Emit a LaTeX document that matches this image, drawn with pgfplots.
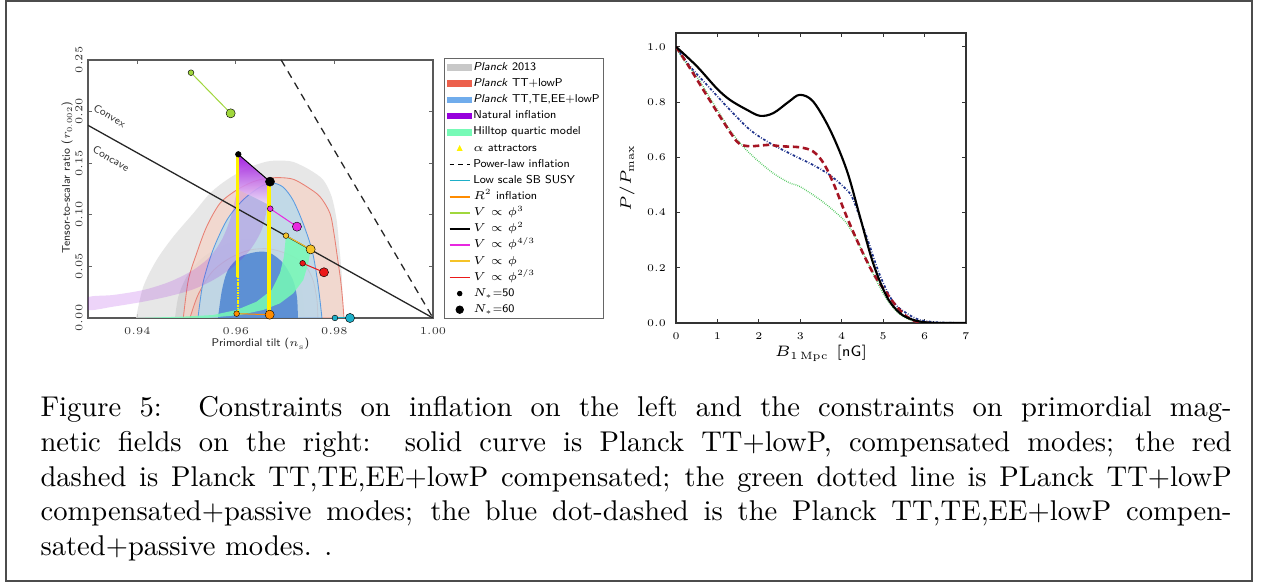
\RequirePackage{fix-cm}
\documentclass[border=0pt]{standalone}
\usepackage{pgfplots}
\pgfplotsset{compat=1.18}
\definecolor{gA}{RGB}{226,226,226}
\definecolor{gB}{RGB}{200,200,200}
\definecolor{rA}{RGB}{245,212,200}
\definecolor{rL}{RGB}{232,128,116}
\definecolor{bA}{RGB}{182,218,238}
\definecolor{bL}{RGB}{90,155,225}
\definecolor{bD}{RGB}{76,132,210}
\definecolor{natp}{RGB}{150,0,220}
\definecolor{hill}{RGB}{118,250,182}
\definecolor{ygreen}{RGB}{160,215,60}
\definecolor{magc}{RGB}{232,40,224}
\definecolor{goldc}{RGB}{245,195,40}
\definecolor{vred}{RGB}{235,25,25}
\definecolor{orng}{RGB}{255,140,0}
\definecolor{cyn}{RGB}{30,175,200}
\definecolor{leg13}{RGB}{200,200,200}
\definecolor{legTT}{RGB}{236,96,76}
\definecolor{legTE}{RGB}{112,172,236}
\definecolor{dred}{RGB}{165,20,35}
\definecolor{navy2}{RGB}{30,50,140}
\definecolor{dgreen}{RGB}{80,200,95}
\newcommand\limg[1]{\addlegendimage{draw=#1, line width=0.6pt}}
\newcommand\pimg[1]{\addlegendimage{legend image code/.code={\fill[#1] (0pt,-1pt) rectangle (8.4pt,1pt);}}}
\newcommand\pair[3]{%
  \addplot[#1,line width=0.35pt,forget plot] coordinates {#2 #3};
  \addplot[only marks,mark=*,mark size=1pt,mark options={fill=#1,draw=black,line width=0.15pt},forget plot] coordinates {#2};
  \addplot[only marks,mark=*,mark size=1.6pt,mark options={fill=#1,draw=black,line width=0.15pt},forget plot] coordinates {#3};}
\begin{document}
\begin{tikzpicture}
\useasboundingbox (0,0) rectangle (442.75pt,205.1pt);
\fill[white] (0,0) rectangle (442.75pt,205.1pt);
\draw[black!70,line width=0.45pt] (2.1pt,1.75pt) rectangle (438.2pt,204.75pt);
\draw[black!70,line width=0.8pt] (2.1pt,1.75pt) -- (438.2pt,1.75pt) -- (438.2pt,204.75pt);

% ---------------- left panel ----------------
\begin{axis}[
  at={(30.8pt,93.8pt)}, anchor=south west,
  width=120.75pt, height=90.3pt, scale only axis,
  xmin=0.93, xmax=1.0, ymin=0, ymax=0.25,
  xtick={0.94,0.96,0.98,1.00}, ytick={0,0.05,0.1,0.15,0.2,0.25},
  scaled ticks=false,
  /pgf/number format/.cd, fixed, fixed zerofill, precision=2, /pgfplots/.cd,
  tick label style={font=\fontsize{3.7}{4}\selectfont, black!80},
  yticklabel style={rotate=90, anchor=south},
  yticklabel shift=-1.6pt,
  axis line style={draw=black!65, line width=0.5pt},
  tick style={black!60, line width=0.25pt},
  major tick length=1.3pt, tick align=inside,
  xlabel={\sffamily Primordial tilt ($n_{\rm s}$)},
  ylabel={\sffamily Tensor-to-scalar ratio ($r_{0.002}$)},
  label style={font=\fontsize{3.9}{4.5}\selectfont, black!85},
  xlabel style={yshift=5.6pt},
  ylabel style={yshift=-5.8pt, xshift=4pt},
  legend image code/.code={\draw[#1] (0.7pt,0pt) -- (7.7pt,0pt);},
  legend style={at={(1.032,1.008)}, anchor=north west, draw=black!60, line width=0.3pt,
    font=\sffamily\fontsize{4.0}{4.5}\selectfont, inner xsep=1pt, inner ysep=0.9pt,
    row sep=1.0pt, nodes={inner sep=0.4pt, text height=2.9pt, text depth=0.95pt, anchor=west},
    /tikz/every even column/.append style={column sep=2.2pt}},
  legend cell align=left,
]
% Planck 2013
\addplot[draw=none, fill=gA, fill opacity=0.8, smooth, forget plot] coordinates {(0.93974,0) (0.94123,0.0304) (0.94393,0.0562) (0.94731,0.0788) (0.95137,0.1014) (0.95475,0.1208) (0.95813,0.1337) (0.96219,0.1450) (0.96625,0.1515) (0.96895,0.1525) (0.97166,0.1512) (0.97504,0.1434) (0.97775,0.1337) (0.97944,0.1176) (0.98045,0.0950) (0.98099,0.0691) (0.98147,0.0433) (0.98167,0.0174) (0.98180,0)} \closedcycle;
\addplot[draw=none, fill=gB, fill opacity=0.55, smooth, forget plot] coordinates {(0.94765,0) (0.94833,0.0207) (0.95002,0.0400) (0.95272,0.0562) (0.95611,0.0675) (0.96016,0.0756) (0.96422,0.0762) (0.96828,0.0691) (0.97166,0.0530) (0.97335,0.0304) (0.97403,0)} \closedcycle;
% Planck TT+lowP
\addplot[draw=rL, line width=0.3pt, fill=rA, fill opacity=0.75, smooth, forget plot] coordinates {(0.94934,0) (0.95036,0.0368) (0.95205,0.0627) (0.95408,0.0885) (0.95678,0.1111) (0.96016,0.1240) (0.96354,0.1321) (0.96625,0.1353) (0.96895,0.1360) (0.97166,0.1344) (0.97437,0.1273) (0.97707,0.1176) (0.97910,0.1014) (0.97991,0.0820) (0.98059,0.0594) (0.98126,0.0368) (0.98167,0.0174) (0.98194,0)} \closedcycle;
\addplot[draw=rL, line width=0.3pt, fill=rL, fill opacity=0.15, smooth, forget plot] coordinates {(0.95069,0) (0.95232,0.0223) (0.95516,0.0446) (0.95881,0.0581) (0.96287,0.0659) (0.96692,0.0669) (0.97098,0.0610) (0.97402,0.0513) (0.97565,0.0368) (0.97646,0.0174) (0.97666,0)} \closedcycle;
% Planck TT,TE,EE+lowP
\addplot[draw=bL, line width=0.3pt, fill=bA, fill opacity=0.8, smooth, forget plot] coordinates {(0.95232,0) (0.95333,0.0339) (0.95536,0.0659) (0.95820,0.0950) (0.96145,0.1143) (0.96490,0.1269) (0.96733,0.1308) (0.96956,0.1269) (0.97159,0.1143) (0.97362,0.0921) (0.97545,0.0659) (0.97646,0.0397) (0.97707,0.0174) (0.97747,0)} \closedcycle;
\addplot[draw=none, fill=bD, fill opacity=0.85, smooth, forget plot] coordinates {(0.95637,0) (0.95719,0.0271) (0.95840,0.0465) (0.96084,0.0591) (0.96429,0.0640) (0.96692,0.0630) (0.96956,0.0533) (0.97159,0.0368) (0.97240,0.0204) (0.97260,0)} \closedcycle;
% Natural inflation
\addplot[draw=none, fill=natp, fill opacity=0.17, smooth, forget plot] coordinates {(0.96050,0.1586) (0.96037,0.1338) (0.95982,0.1143) (0.95881,0.0950) (0.95712,0.0756) (0.95475,0.0594) (0.95137,0.0465) (0.94664,0.0352) (0.94123,0.0271) (0.93514,0.0223) (0.93,0.0200) (0.93,0.0078) (0.93514,0.0110) (0.94123,0.0158) (0.94664,0.0213) (0.95137,0.0278) (0.95543,0.0368) (0.95949,0.0497) (0.96287,0.0659) (0.96524,0.0853) (0.96638,0.1079) (0.96693,0.1321)} -- cycle;
\addplot[draw=none, top color=natp, bottom color=natp!10, fill opacity=0.85, forget plot] coordinates {(0.96050,0.1586) (0.96693,0.1321) (0.96660,0.1100) (0.96025,0.1250)} -- cycle;
% Hilltop quartic
\addplot[draw=none, fill=hill, fill opacity=0.85, forget plot] coordinates {(0.97017,0.0801) (0.96976,0.0594) (0.96895,0.0433) (0.96727,0.0271) (0.96422,0.0158) (0.96016,0.0078) (0.95543,0.0029) (0.94934,0.0013) (0.9400,0.0) (0.95408,0) (0.96084,0.0029) (0.96557,0.0078) (0.96895,0.0142) (0.97165,0.0239) (0.97368,0.0368) (0.97470,0.0530) (0.97518,0.0665)} -- cycle;
% convex/concave boundary and power law
\addplot[black!85, line width=0.45pt, forget plot] coordinates {(0.93,0.1867) (1.0,0)};
\addplot[black!85, line width=0.45pt, dash pattern=on 2.6pt off 2pt, forget plot] coordinates {(0.9692,0.25) (1.0,0)};
% alpha attractors
\addplot[yellow, line width=1pt, forget plot] coordinates {(0.9604,0.157) (0.9604,0.04)};
\addplot[yellow, line width=0.8pt, dash pattern=on 0.6pt off 0.3pt, forget plot] coordinates {(0.9604,0.04) (0.9604,0.004)};
\addplot[yellow, line width=1.3pt, forget plot] coordinates {(0.9668,0.131) (0.9668,0.003)};
% monomial potentials
\pair{ygreen}{(0.95090,0.2377)}{(0.95895,0.1983)}
\pair{black}{(0.96050,0.1586)}{(0.96693,0.1321)}
\pair{magc}{(0.96699,0.1059)}{(0.97240,0.0885)}
\pair{goldc}{(0.97017,0.0798)}{(0.97518,0.0665)}
\pair{vred}{(0.97355,0.0530)}{(0.97788,0.0443)}
\pair{orng}{(0.96016,0.0042)}{(0.96686,0.0032)}
\pair{cyn}{(0.98011,0)}{(0.98316,0)}
\node[rotate=-30, font=\sffamily\fontsize{3.8}{4}\selectfont, black!80] at (axis cs:0.93440,0.1960) {Convex};
\node[rotate=-30, font=\sffamily\fontsize{3.8}{4}\selectfont, black!80] at (axis cs:0.93470,0.1545) {Concave};
% legend
\pimg{leg13} \addlegendentry{\textit{Planck} 2013}
\pimg{legTT} \addlegendentry{\textit{Planck} TT+lowP}
\pimg{legTE} \addlegendentry{\textit{Planck} TT,TE,EE+lowP}
\pimg{natp} \addlegendentry{Natural inflation}
\pimg{hill} \addlegendentry{Hilltop quartic model}
\addlegendimage{legend image code/.code={\fill[yellow] (3.4pt,-0.8pt) -- (5pt,-0.8pt) -- (4.2pt,0.8pt) -- cycle;}} \addlegendentry{$\alpha$ attractors}
\addlegendimage{draw=black, line width=0.55pt, dash pattern=on 1.5pt off 1.5pt} \addlegendentry{Power-law inflation}
\limg{cyn} \addlegendentry{Low scale SB SUSY}
\limg{orng} \addlegendentry{$R^2$ inflation}
\limg{ygreen} \addlegendentry{$V\propto\phi^3$}
\limg{black} \addlegendentry{$V\propto\phi^2$}
\limg{magc} \addlegendentry{$V\propto\phi^{4/3}$}
\limg{goldc} \addlegendentry{$V\propto\phi$}
\limg{vred} \addlegendentry{$V\propto\phi^{2/3}$}
\addlegendimage{legend image code/.code={\fill[black] (4.2pt,0pt) circle (0.8pt);}} \addlegendentry{$N_*$=50}
\addlegendimage{legend image code/.code={\fill[black] (4.2pt,0pt) circle (1.3pt);}} \addlegendentry{$N_*$=60}
\end{axis}

% ---------------- right panel ----------------
\begin{axis}[
  at={(236.6pt,92.05pt)}, anchor=south west,
  width=101.5pt, height=101.5pt, scale only axis,
  xmin=0, xmax=7, ymin=0, ymax=1.05,
  xtick={0,1,2,3,4,5,6,7}, ytick={0,0.2,0.4,0.6,0.8,1.0},
  scaled ticks=false,
  yticklabel style={/pgf/number format/.cd, fixed, fixed zerofill, precision=1},
  tick label style={font=\fontsize{3.6}{4}\selectfont},
  axis line style={draw=black!80, line width=0.45pt},
  tick style={black!80, line width=0.25pt},
  major tick length=1.3pt, tick align=inside,
  xlabel={$B_{1\,\mathrm{Mpc}}$ [\textsf{nG}]},
  ylabel={$P/P_{\max}$},
  label style={font=\fontsize{5.3}{6}\selectfont},
  xlabel style={yshift=4.8pt},
  ylabel style={yshift=-2.5pt},
]
\addplot[dgreen, line width=0.5pt, dash pattern=on 0.25pt off 0.45pt, smooth, tension=0.55] coordinates {(0,1) (0.18,0.953) (0.50,0.892) (0.90,0.796) (1.30,0.699) (1.62,0.639) (1.95,0.591) (2.35,0.542) (2.73,0.508) (2.99,0.494) (3.48,0.446) (3.88,0.397) (4.12,0.361) (4.36,0.301) (4.68,0.204) (5.0,0.107) (5.33,0.041) (5.65,0.011) (5.97,0.002) (6.5,0) (7,0)};
\addplot[navy2, line width=0.6pt, dash pattern=on 0.9pt off 0.6pt on 0.25pt off 0.6pt, smooth, tension=0.55] coordinates {(0,1) (0.34,0.929) (0.82,0.850) (1.30,0.772) (1.79,0.699) (2.27,0.651) (2.73,0.615) (3.0,0.595) (3.31,0.572) (3.72,0.535) (4.12,0.482) (4.28,0.446) (4.60,0.313) (4.92,0.174) (5.24,0.077) (5.57,0.035) (5.89,0.011) (6.37,0.002) (7,0)};
\addplot[dred, line width=0.9pt, dash pattern=on 2.2pt off 1.3pt, smooth, tension=0.55] coordinates {(0,1) (0.26,0.941) (0.66,0.844) (1.06,0.748) (1.38,0.675) (1.54,0.648) (1.79,0.640) (2.27,0.645) (2.51,0.640) (2.99,0.636) (3.31,0.621) (3.56,0.579) (3.80,0.506) (4.12,0.385) (4.44,0.276) (4.76,0.180) (5.09,0.107) (5.33,0.059) (5.57,0.023) (5.81,0.005) (6.1,0)};
\addplot[black, line width=0.75pt, smooth, tension=0.55] coordinates {(0,1) (0.5,0.930) (0.98,0.850) (1.3,0.808) (1.71,0.772) (2.03,0.750) (2.35,0.760) (2.73,0.802) (2.99,0.826) (3.31,0.802) (3.72,0.699) (4.12,0.554) (4.44,0.385) (4.76,0.216) (5.09,0.095) (5.41,0.035) (5.73,0.011) (6.05,0.002) (6.5,0) (7,0)};
\end{axis}

% ---------------- caption ----------------
\begin{scope}[every node/.style={anchor=base west, inner sep=0pt, font=\fontsize{10}{12}\selectfont}]
\node at (14pt,59.26pt) {\makebox[416.9pt][s]{Figure 5:\ \ Constraints on inflation on the left and the constraints on primordial mag-}};
\node at (14pt,47.1pt) {\makebox[416.9pt][s]{netic fields on the right:\ \ solid curve is Planck TT+lowP, compensated modes; the red}};
\node at (14pt,34.97pt) {\makebox[416.9pt][s]{dashed is Planck TT,TE,EE+lowP compensated; the green dotted line is PLanck TT+lowP}};
\node at (14pt,22.82pt) {\makebox[416.9pt][s]{compensated+passive modes; the blue dot-dashed is the Planck TT,TE,EE+lowP compen-}};
\node at (14pt,10.68pt) {sated+passive modes. .};
\end{scope}
\end{tikzpicture}
\end{document}
